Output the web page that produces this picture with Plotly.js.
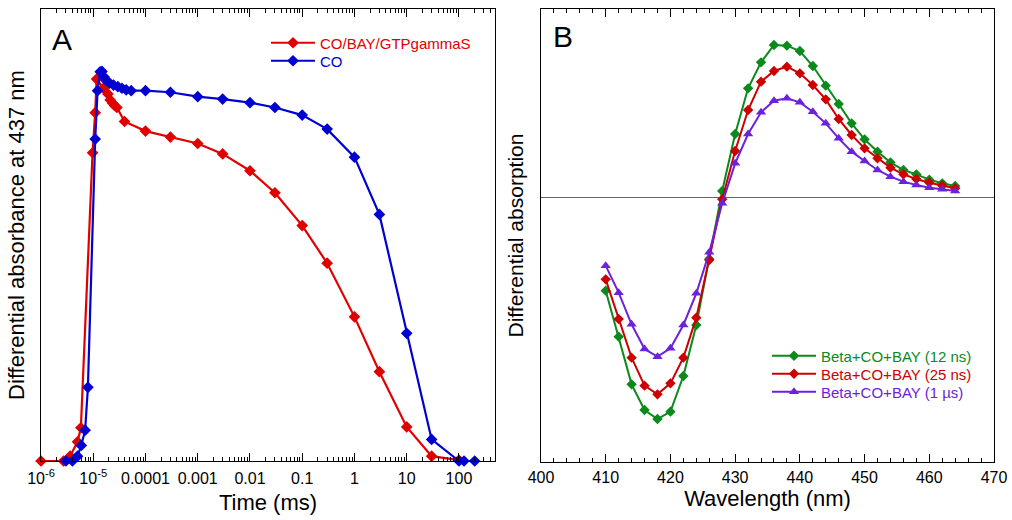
<!DOCTYPE html>
<html>
<head>
<meta charset="utf-8">
<script src="https://cdn.plot.ly/plotly-3.0.1.min.js"></script>
<style>html,body{margin:0;padding:0;background:#fff;}#chart{width:1012px;height:520px;}</style>
</head>
<body>
<div id="chart"></div>
<script>
// ---------- Panel A: kinetics at 437 nm (time in ms) ----------
const timeRedA = [1e-6, 2.7e-6, 3.6e-6, 5.0e-6, 5.8e-6, 9.7e-6, 1.09e-5, 1.16e-5, 1.57e-5, 1.91e-5, 2.11e-5, 2.34e-5, 2.55e-5, 2.84e-5, 3.97e-5, 1e-4, 3e-4, 1e-3, 3e-3, 0.01, 0.03, 0.1, 0.3, 1, 3, 10, 30, 100];
const absRedA  = [0, 0, 0.012, 0.048, 0.083, 0.770, 0.870, 0.954, 0.931, 0.917, 0.902, 0.894, 0.888, 0.883, 0.848, 0.824, 0.809, 0.793, 0.767, 0.725, 0.670, 0.588, 0.494, 0.360, 0.223, 0.085, 0.012, 0.002];

const timeBlueA = [3.0e-6, 4.0e-6, 5.0e-6, 5.9e-6, 7.0e-6, 7.9e-6, 1.09e-5, 1.21e-5, 1.36e-5, 1.47e-5, 1.62e-5, 1.77e-5, 2.05e-5, 2.44e-5, 2.96e-5, 3.54e-5, 4.28e-5, 5.33e-5, 1e-4, 3e-4, 1e-3, 3e-3, 0.01, 0.03, 0.1, 0.3, 1, 3, 10, 30, 100, 125, 200];
const absBlueA  = [0, 0, 0.012, 0.039, 0.077, 0.184, 0.804, 0.925, 0.972, 0.973, 0.959, 0.950, 0.944, 0.939, 0.935, 0.931, 0.927, 0.925, 0.925, 0.921, 0.910, 0.904, 0.895, 0.883, 0.864, 0.829, 0.759, 0.616, 0.319, 0.054, 0, 0, 0];

const nameRedA = 'CO/BAY/GTPgammaS';
const nameBlueA = 'CO';
const tickValsA = [1e-6, 1e-5, 1e-4, 1e-3, 1e-2, 0.1, 1, 10, 100];
const tickTextA = ['10<sup>-6</sup>', '10<sup>-5</sup>', '0.0001', '0.001', '0.01', '0.1', '1', '10', '100'];

// ---------- Panel B: difference spectra ----------
const wavelength = [410, 412, 414, 416, 418, 420, 422, 424, 426, 428, 430, 432, 434, 436, 438, 440, 442, 444, 446, 448, 450, 452, 454, 456, 458, 460, 462, 464];
const spec12ns = [-2.79, -4.17, -5.60, -6.37, -6.64, -6.42, -5.35, -3.82, -1.84, 0.20, 1.91, 3.28, 4.06, 4.58, 4.56, 4.40, 3.95, 3.36, 2.81, 2.23, 1.75, 1.38, 1.06, 0.83, 0.70, 0.54, 0.43, 0.35];
const spec25ns = [-2.45, -3.64, -4.80, -5.64, -5.90, -5.57, -4.80, -3.60, -1.87, -0.05, 1.40, 2.63, 3.48, 3.80, 3.93, 3.73, 3.38, 2.95, 2.36, 1.88, 1.48, 1.18, 0.90, 0.70, 0.56, 0.45, 0.36, 0.28];
const spec1us  = [-2.04, -2.85, -3.80, -4.54, -4.77, -4.52, -3.82, -2.87, -1.64, -0.17, 1.03, 1.91, 2.56, 2.91, 2.98, 2.86, 2.58, 2.23, 1.78, 1.38, 1.10, 0.83, 0.63, 0.48, 0.38, 0.30, 0.25, 0.20];
const namesB = ['Beta+CO+BAY (12 ns)', 'Beta+CO+BAY (25 ns)', 'Beta+CO+BAY (1 \u00b5s)'];

const cRedA = '#e10000', cBlueA = '#0000d2';
const cGreen = '#0b8a1c', cRedB = '#cc0000', cPurple = '#6c22dc';

// minor tick positions for the log axis (2..9 per decade)
const minorA = [];
for (let e = -6; e <= 2; e++) for (let m = 2; m <= 9; m++) minorA.push(m * Math.pow(10, e));

function col(txt, c) { return '<span style="color:' + c + '">' + txt + '</span>'; }

const traces = [
  {x: timeRedA, y: absRedA, xaxis: 'x', yaxis: 'y', mode: 'lines+markers', name: col(nameRedA, cRedA), showlegend: true,
   line: {color: cRedA, width: 2.2}, marker: {symbol: 'diamond', size: 9, color: cRedA}, cliponaxis: false, legend: 'legend'},
  {x: timeBlueA, y: absBlueA, xaxis: 'x', yaxis: 'y', mode: 'lines+markers', name: col(nameBlueA, cBlueA), showlegend: true,
   line: {color: cBlueA, width: 2.2}, marker: {symbol: 'diamond', size: 9, color: cBlueA}, cliponaxis: false, legend: 'legend2'},
  {x: wavelength, y: spec12ns, xaxis: 'x2', yaxis: 'y2', mode: 'lines+markers', name: col(namesB[0], cGreen), showlegend: true,
   line: {color: cGreen, width: 2}, marker: {symbol: 'diamond', size: 8, color: cGreen}, cliponaxis: false, legend: 'legend3'},
  {x: wavelength, y: spec25ns, xaxis: 'x2', yaxis: 'y2', mode: 'lines+markers', name: col(namesB[1], cRedB), showlegend: true,
   line: {color: cRedB, width: 2}, marker: {symbol: 'diamond', size: 8, color: cRedB}, cliponaxis: false, legend: 'legend4'},
  {x: wavelength, y: spec1us, xaxis: 'x2', yaxis: 'y2', mode: 'lines+markers', name: col(namesB[2], cPurple), showlegend: true,
   line: {color: cPurple, width: 2}, marker: {symbol: 'triangle-up', size: 9, color: cPurple}, cliponaxis: false, legend: 'legend5'}
];

const W = 1012, H = 520;
const fontFam = 'Liberation Sans, Arial, sans-serif';
function leg(xpx, ypx) {
  return {x: xpx / W, y: 1 - ypx / H, xanchor: 'left', yanchor: 'middle', bgcolor: 'rgba(0,0,0,0)',
          font: {size: 15}, itemwidth: 44, borderwidth: 0, visible: true};
}
const layout = {
  width: W, height: H,
  margin: {l: 0, r: 0, t: 0, b: 0},
  paper_bgcolor: '#fff', plot_bgcolor: '#fff',
  font: {family: fontFam, color: '#000', size: 16},
  hovermode: false,
  showlegend: true,
  xaxis: {
    domain: [41 / W, 495 / W], anchor: 'y', type: 'log', range: [-6, 2.69],
    tickmode: 'array', tickvals: tickValsA, ticktext: tickTextA, tickangle: 0,
    ticks: 'inside', ticklen: 8, tickcolor: '#000', tickwidth: 1, ticklabelstandoff: 3,
    minor: {tickmode: 'array', tickvals: minorA, ticks: 'inside', ticklen: 4, tickcolor: '#000', tickwidth: 1, showgrid: false},
    showline: true, linecolor: '#000', linewidth: 1, mirror: 'ticks', showgrid: false, zeroline: false,
    tickfont: {size: 16},
    title: {text: 'Time (ms)', font: {size: 22}, standoff: 8}
  },
  yaxis: {
    domain: [1 - 461 / H, 1 - 9 / H], anchor: 'x', range: [0, 1.129],
    showticklabels: false, ticks: '', showline: true, linecolor: '#000', linewidth: 1, mirror: true,
    showgrid: false, zeroline: false,
    title: {text: 'Differential absorbance at 437 nm', font: {size: 22}, standoff: 9}
  },
  xaxis2: {
    domain: [541 / W, 994 / W], anchor: 'y2', range: [400, 470],
    tickmode: 'linear', tick0: 400, dtick: 10,
    ticks: 'inside', ticklen: 8, tickcolor: '#000', tickwidth: 1, ticklabelstandoff: 1,
    minor: {dtick: 2, ticks: 'inside', ticklen: 4, tickcolor: '#000', tickwidth: 1, showgrid: false},
    showline: true, linecolor: '#000', linewidth: 1, mirror: 'ticks', showgrid: false, zeroline: false,
    tickfont: {size: 16},
    title: {text: 'Wavelength (nm)', font: {size: 22}, standoff: 2}
  },
  yaxis2: {
    domain: [1 - 462 / H, 1 - 9 / H], anchor: 'x2', range: [-7.93, 5.66],
    showticklabels: false, ticks: '', showline: true, linecolor: '#000', linewidth: 1, mirror: true,
    showgrid: false, zeroline: true, zerolinecolor: '#666', zerolinewidth: 1,
    title: {text: 'Differential absorption', font: {size: 21}, standoff: 10}
  },
  legend: leg(266, 43),
  legend2: leg(266, 61),
  legend3: leg(767, 356),
  legend4: leg(767, 374),
  legend5: leg(767, 392),
  annotations: [
    {text: 'A', xref: 'paper', yref: 'paper', x: 50 / W, y: 1 - 21 / H, xanchor: 'left', yanchor: 'top', showarrow: false, font: {size: 30}},
    {text: 'B', xref: 'paper', yref: 'paper', x: 551 / W, y: 1 - 18 / H, xanchor: 'left', yanchor: 'top', showarrow: false, font: {size: 30}}
  ]
};

Plotly.newPlot('chart', traces, layout, {displayModeBar: false, staticPlot: true});
</script>
</body>
</html>
